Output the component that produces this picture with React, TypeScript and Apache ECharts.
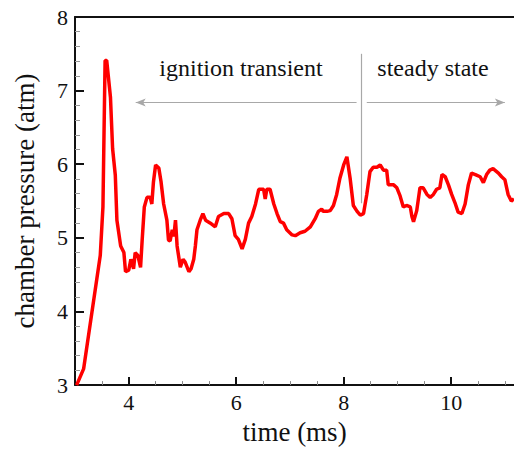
import React, { useEffect, useRef } from "react";
import * as echarts from "echarts";

const timeMs = [
  3.03, 3.16, 3.47, 3.52, 3.56, 3.59, 3.66, 3.7, 3.75, 3.78, 3.85, 3.91, 3.94, 4.0, 4.04, 4.09, 4.12, 4.17, 4.22,
  4.25, 4.29, 4.34, 4.4, 4.43, 4.46, 4.5, 4.56, 4.6, 4.65, 4.71, 4.74, 4.77, 4.81, 4.84, 4.87, 4.9, 4.96, 5.01,
  5.05, 5.12, 5.16, 5.21, 5.24, 5.27, 5.33, 5.38, 5.43, 5.52, 5.61, 5.67, 5.77, 5.86, 5.92, 5.98, 6.04, 6.11,
  6.17, 6.23, 6.29, 6.36, 6.42, 6.51, 6.54, 6.57, 6.63, 6.7, 6.76, 6.82, 6.88, 6.94, 7.04, 7.1, 7.19, 7.28, 7.38,
  7.47, 7.53, 7.59, 7.62, 7.69, 7.75, 7.81, 7.87, 7.93, 8.0, 8.06, 8.12, 8.18, 8.25, 8.31, 8.37, 8.43, 8.49,
  8.55, 8.62, 8.68, 8.74, 8.8, 8.83, 8.93, 8.99, 9.05, 9.11, 9.17, 9.24, 9.27, 9.3, 9.36, 9.42, 9.48, 9.55,
  9.61, 9.67, 9.73, 9.79, 9.83, 9.89, 9.95, 10.01, 10.07, 10.13, 10.2, 10.26, 10.32, 10.38, 10.45, 10.54, 10.6,
  10.66, 10.72, 10.78, 10.88, 10.94, 11.0, 11.06, 11.12, 11.17,
];

const pressureAtm = [
  3.0, 3.22, 4.76, 5.42, 7.41, 7.41, 6.91, 6.21, 5.85, 5.24, 4.89, 4.8, 4.54, 4.56, 4.71, 4.58, 4.8, 4.76, 4.6,
  4.97, 5.42, 5.55, 5.55, 5.46, 5.76, 5.99, 5.95, 5.77, 5.46, 5.24, 4.97, 4.96, 5.11, 5.02, 5.24, 4.89, 4.6, 4.71,
  4.67, 4.54, 4.58, 4.71, 4.89, 5.11, 5.24, 5.33, 5.24, 5.2, 5.15, 5.29, 5.33, 5.33, 5.26, 5.03, 4.98, 4.85,
  4.98, 5.2, 5.29, 5.46, 5.66, 5.66, 5.53, 5.66, 5.66, 5.46, 5.33, 5.22, 5.2, 5.11, 5.04, 5.03, 5.07, 5.09, 5.15,
  5.26, 5.36, 5.39, 5.36, 5.36, 5.37, 5.44, 5.59, 5.81, 5.99, 6.1, 5.81, 5.44, 5.36, 5.31, 5.33, 5.59, 5.9,
  5.96, 5.96, 5.99, 5.92, 5.92, 5.72, 5.72, 5.68, 5.57, 5.42, 5.44, 5.42, 5.29, 5.22, 5.37, 5.68, 5.68, 5.59,
  5.55, 5.59, 5.66, 5.68, 5.86, 5.83, 5.72, 5.59, 5.48, 5.35, 5.33, 5.46, 5.72, 5.88, 5.86, 5.83, 5.75,
  5.86, 5.92, 5.94, 5.88, 5.83, 5.79, 5.59, 5.5, 5.53,
];

const xMajorTicks = [4, 6, 8, 10];
const xMinorTicks = [3.5, 4.5, 5, 5.5, 6.5, 7, 7.5, 8.5, 9, 9.5, 10.5, 11];
const xName = "time (ms)";
const yName = "chamber pressure (atm)";
const phaseLabels = ["ignition transient", "steady state"];
const phaseBoundary = 8.33;

const SERIF = "Liberation Serif";

export default function App() {
  const ref = useRef<HTMLDivElement>(null);
  useEffect(() => {
    if (!ref.current) return;
    const chart = echarts.init(ref.current, null, { renderer: "svg" });
    const data = timeMs.map((t, i) => [t, pressureAtm[i]]);
    const gray = "#a8a8a8";
    chart.setOption({
      animation: false,
      backgroundColor: "#ffffff",
      textStyle: { fontFamily: SERIF },
      grid: { left: 75, top: 17, right: 0, bottom: 54, containLabel: false },
      xAxis: [
        {
          type: "value",
          position: "bottom",
          min: 3,
          max: 11.17,
          name: xName,
          nameLocation: "middle",
          nameGap: 23,
          nameTextStyle: { fontFamily: SERIF, fontSize: 27, color: "#111" },
          axisLine: { show: true, onZero: false, lineStyle: { color: "#111", width: 2 } },
          axisTick: { show: true, inside: true, length: 8, customValues: xMajorTicks, lineStyle: { color: "#111", width: 2 } },
          axisLabel: { show: true, customValues: xMajorTicks, margin: 6, fontFamily: SERIF, fontSize: 22, color: "#111" },
          splitLine: { show: false },
        },
        {
          type: "value",
          position: "bottom",
          offset: 0,
          min: 3,
          max: 11.17,
          axisLine: { show: false },
          axisTick: { show: true, inside: true, length: 4, customValues: xMinorTicks, lineStyle: { color: "#888", width: 1 } },
          axisLabel: { show: false },
          splitLine: { show: false },
        },
        {
          type: "value",
          position: "top",
          offset: 0,
          min: 3,
          max: 11.17,
          axisLine: { show: true, onZero: false, lineStyle: { color: "#111", width: 2 } },
          axisTick: { show: false },
          axisLabel: { show: false },
          splitLine: { show: false },
        },
      ],
      yAxis: {
        type: "value",
        min: 3,
        max: 8,
        interval: 1,
        name: yName,
        nameLocation: "middle",
        nameGap: 37,
        nameTextStyle: { fontFamily: SERIF, fontSize: 27, color: "#111" },
        axisLine: { show: true, onZero: false, lineStyle: { color: "#111", width: 2 } },
        axisTick: { show: true, inside: true, length: 9, lineStyle: { color: "#111", width: 2 } },
        minorTick: { show: true, splitNumber: 5, length: 5, lineStyle: { color: "#999", width: 1 } },
        axisLabel: { margin: 7, fontFamily: SERIF, fontSize: 22, color: "#111" },
        splitLine: { show: false },
      },
      graphic: [
        {
          type: "text",
          x: 241,
          y: 68,
          style: { text: phaseLabels[0], fontFamily: SERIF, fontSize: 24, fill: "#111", align: "center", verticalAlign: "middle" },
        },
        {
          type: "text",
          x: 433,
          y: 68,
          style: { text: phaseLabels[1], fontFamily: SERIF, fontSize: 24, fill: "#111", align: "center", verticalAlign: "middle" },
        },
      ],
      series: [
        {
          type: "line",
          data,
          xAxisIndex: 0,
          yAxisIndex: 0,
          showSymbol: false,
          symbol: "none",
          lineStyle: { color: "#ff0000", width: 3.5 },
          silent: true,
          markLine: {
            silent: true,
            animation: false,
            label: { show: false },
            emphasis: { disabled: true },
            lineStyle: { color: gray, width: 1.2, type: "solid" },
            symbol: ["none", "none"],
            data: [
              [
                { coord: [phaseBoundary, 7.5], symbol: "none" },
                { coord: [phaseBoundary, 5.47], symbol: "none" },
              ],
              [
                { coord: [8.24, 6.84], symbol: "none" },
                { coord: [4.13, 6.84], symbol: "arrow", symbolSize: [6, 10] },
              ],
              [
                { coord: [8.43, 6.84], symbol: "none" },
                { coord: [11.0, 6.84], symbol: "arrow", symbolSize: [6, 10] },
              ],
            ],
          },
        },
      ],
    });
    return () => chart.dispose();
  }, []);
  return <div ref={ref} style={{ position: "fixed", left: 0, top: 0, width: 514, height: 450, background: "#fff" }} />;
}
